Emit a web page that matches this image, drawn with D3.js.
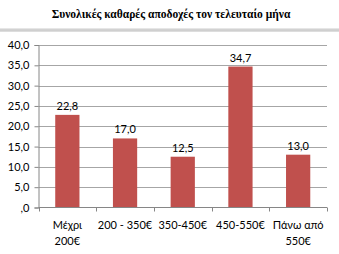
<!DOCTYPE html>
<html><head><meta charset="utf-8">
<script src="https://cdn.jsdelivr.net/npm/d3@7"></script>
<style>html,body{margin:0;padding:0;background:#fff;}svg{display:block;}</style>
</head><body>
<script>
const categories = [["Μέχρι","200€"],["200 - 350€"],["350-450€"],["450-550€"],["Πάνω από","550€"]];
const values = [22.8, 17.0, 12.5, 34.7, 13.0];
const yTicks = [0,5,10,15,20,25,30,35,40];
const title = "Συνολικές καθαρές αποδοχές τον τελευταίο μήνα";

(function(){
const W=339,H=254;
const svg=d3.select("body").append("svg").attr("width",W).attr("height",H);
const defs=svg.append("defs");
const g1=defs.append("linearGradient").attr("id","sep").attr("x1",0).attr("y1",0).attr("x2",0).attr("y2",1);
g1.append("stop").attr("offset","0").attr("stop-color","#f0f0f0");
g1.append("stop").attr("offset","0.5").attr("stop-color","#c8c8c8");
g1.append("stop").attr("offset","1").attr("stop-color","#e4e4e4");
svg.append("rect").attr("x",0).attr("y",28).attr("width",W).attr("height",4).attr("fill","url(#sep)");

svg.append("text").attr("x",171).attr("y",18).attr("text-anchor","middle")
  .attr("font-family","Liberation Serif").attr("font-weight","bold").attr("font-size",11.5)
  .attr("fill","#000").text(title);

const pL=38.5,pR=327,pT=45,pB=207.5;
const x=d3.scaleBand().domain(d3.range(values.length)).range([pL,pR]).paddingInner(0.58).paddingOuter(0.29);
const y=d3.scaleLinear().domain([0,40]).range([pB,pT]);

svg.append("g").selectAll("line").data(yTicks.filter(d=>d>0)).join("line")
  .attr("x1",pL).attr("x2",pR).attr("y1",d=>Math.round(y(d))+0.5).attr("y2",d=>Math.round(y(d))+0.5)
  .attr("stroke","#a6a6a6").attr("stroke-width",1);

svg.append("g").selectAll("rect").data(values).join("rect")
  .attr("x",(d,i)=>x(i)).attr("width",x.bandwidth())
  .attr("y",d=>y(d)).attr("height",d=>y(0)-y(d)).attr("fill","#C0504D");

svg.append("g").selectAll("text").data(values).join("text")
  .attr("x",(d,i)=>x(i)+x.bandwidth()/2).attr("y",d=>y(d)-5).attr("text-anchor","middle")
  .attr("font-family","Lato").attr("font-size",11).attr("fill","#000")
  .text(d=>d.toFixed(1).replace(".",","));

const fmt=d=>(d===0?",0":d.toFixed(1).replace(".",","));
const ya=svg.append("g").attr("transform",`translate(${pL},0)`)
  .call(d3.axisLeft(y).tickValues(yTicks).tickSize(4).tickPadding(5).tickFormat(fmt));
ya.selectAll("path,line").attr("stroke","#868686");
ya.selectAll("text").attr("font-family","Lato").attr("font-size",11).attr("fill","#000");

const step=(pR-pL)/values.length;
const xa=svg.append("g");
xa.append("line").attr("x1",pL).attr("x2",pR).attr("y1",pB).attr("y2",pB).attr("stroke","#868686");
xa.selectAll("line.t").data(d3.range(values.length+1)).join("line").attr("class","t")
  .attr("x1",i=>Math.round(pL+i*step)+0.5).attr("x2",i=>Math.round(pL+i*step)+0.5)
  .attr("y1",pB).attr("y2",pB+4).attr("stroke","#868686");
const lab=xa.selectAll("text").data(categories).join("text")
  .attr("text-anchor","middle").attr("font-family","Lato").attr("font-size",11).attr("fill","#000");
lab.each(function(c,i){
  const t=d3.select(this);
  c.forEach((s,k)=>t.append("tspan").attr("x",x(i)+x.bandwidth()/2).attr("y",229+k*16).text(s));
});
})();
</script>
</body></html>
